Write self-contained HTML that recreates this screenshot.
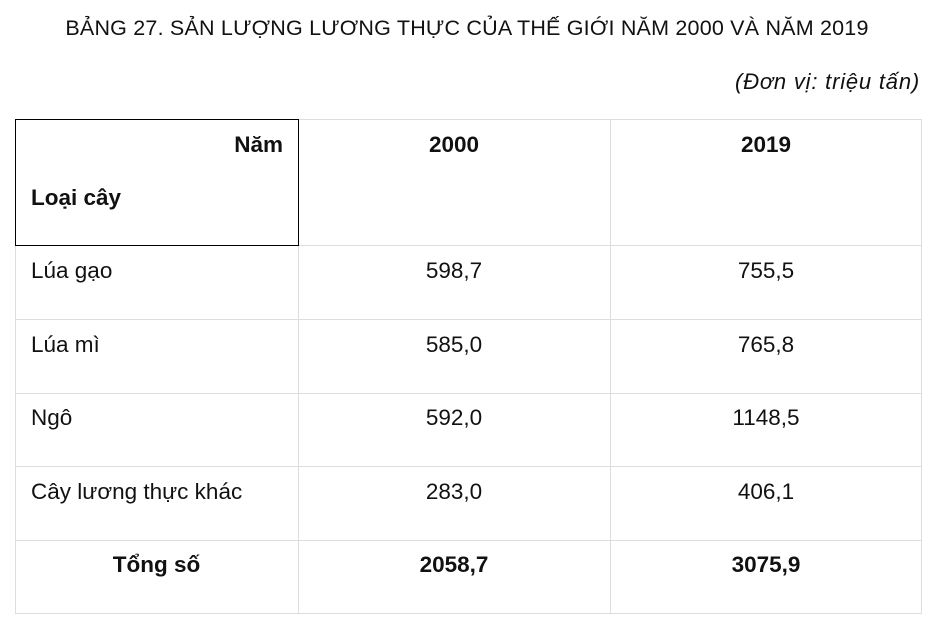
<!DOCTYPE html>
<html><head><meta charset="utf-8"><style>
body{margin:0;width:938px;height:628px;background:#fff;font-family:"Liberation Sans",sans-serif;color:#111;position:relative;overflow:hidden}
.t{position:absolute;white-space:nowrap;font-size:22.5px;line-height:26px}
.h{position:absolute;background:#ddd}
.b{font-weight:bold}
.c{text-align:center}
</style></head><body>
<div class="t c" style="left:0;width:934px;top:15px;font-size:21.5px;letter-spacing:0.2px">BẢNG 27. SẢN LƯỢNG LƯƠNG THỰC CỦA THẾ GIỚI NĂM 2000 VÀ NĂM 2019</div>
<div class="t" style="right:18px;top:69px;font-size:22px;font-style:italic;letter-spacing:0.8px">(Đơn vị: triệu tấn)</div>
<div class="h" style="left:15px;top:119px;width:907px;height:1px"></div>
<div class="h" style="left:15px;top:245px;width:907px;height:1px"></div>
<div class="h" style="left:15px;top:319px;width:907px;height:1px"></div>
<div class="h" style="left:15px;top:393px;width:907px;height:1px"></div>
<div class="h" style="left:15px;top:466px;width:907px;height:1px"></div>
<div class="h" style="left:15px;top:540px;width:907px;height:1px"></div>
<div class="h" style="left:15px;top:613px;width:907px;height:1px"></div>
<div class="h" style="left:15px;top:119px;width:1px;height:495px"></div>
<div class="h" style="left:298px;top:119px;width:1px;height:495px"></div>
<div class="h" style="left:610px;top:119px;width:1px;height:495px"></div>
<div class="h" style="left:921px;top:119px;width:1px;height:495px"></div>
<div style="position:absolute;left:15px;top:119px;width:282px;height:125px;border:1px solid #000"></div>
<div class="t b" style="right:655px;top:132px">Năm</div>
<div class="t b" style="left:31px;top:185px">Loại cây</div>
<div class="t b c" style="left:298px;width:312px;top:132px">2000</div>
<div class="t b c" style="left:610px;width:312px;top:132px">2019</div>
<div class="t" style="left:31px;top:258px">Lúa gạo</div>
<div class="t c" style="left:298px;width:312px;top:258px">598,7</div>
<div class="t c" style="left:610px;width:312px;top:258px">755,5</div>
<div class="t" style="left:31px;top:332px">Lúa mì</div>
<div class="t c" style="left:298px;width:312px;top:332px">585,0</div>
<div class="t c" style="left:610px;width:312px;top:332px">765,8</div>
<div class="t" style="left:31px;top:405px">Ngô</div>
<div class="t c" style="left:298px;width:312px;top:405px">592,0</div>
<div class="t c" style="left:610px;width:312px;top:405px">1148,5</div>
<div class="t" style="left:31px;top:479px">Cây lương thực khác</div>
<div class="t c" style="left:298px;width:312px;top:479px">283,0</div>
<div class="t c" style="left:610px;width:312px;top:479px">406,1</div>
<div class="t b c" style="left:15px;width:283px;top:552px">Tổng số</div>
<div class="t b c" style="left:298px;width:312px;top:552px">2058,7</div>
<div class="t b c" style="left:610px;width:312px;top:552px">3075,9</div>
</body></html>
